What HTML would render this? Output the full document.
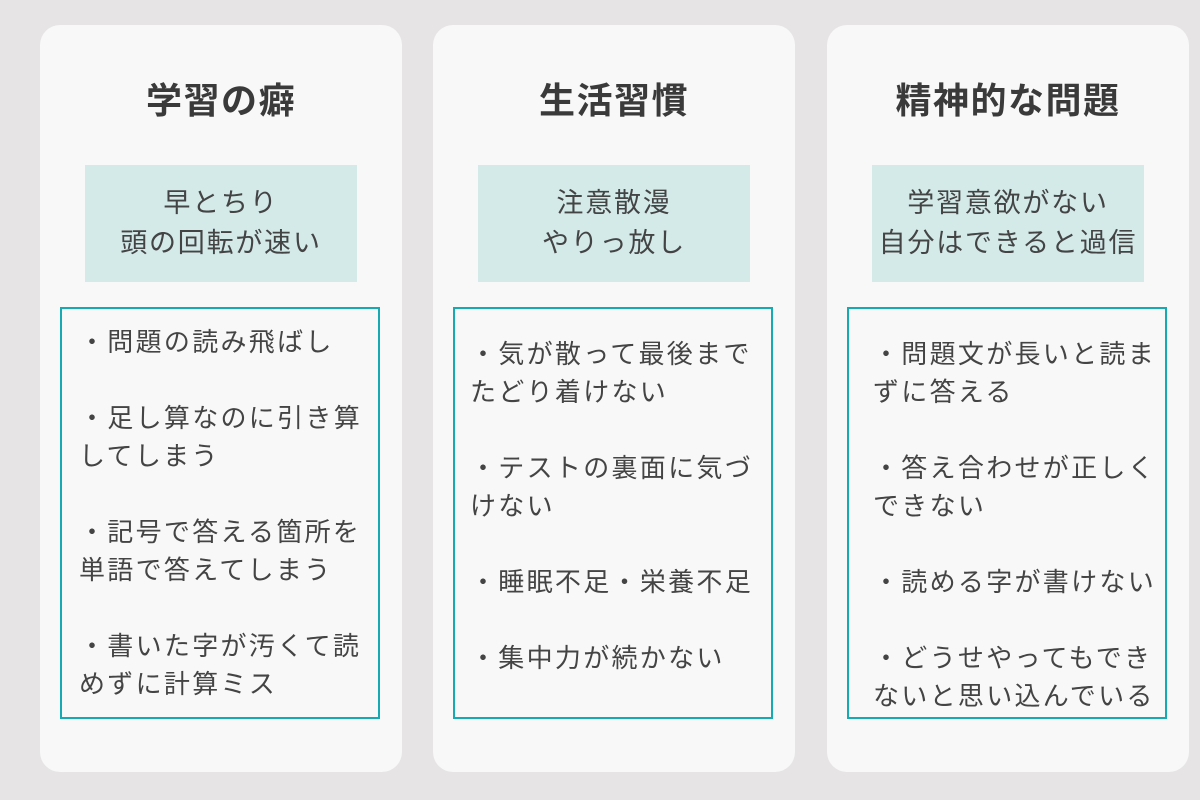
<!DOCTYPE html>
<html><head><meta charset="utf-8"><style>
body{margin:0;width:1200px;height:800px;background:#e6e4e4;position:relative;overflow:hidden;font-family:"Liberation Sans","Noto Sans CJK JP",sans-serif;color:#444;}
.card{position:absolute;top:25px;width:362px;height:747px;background:#f8f8f8;border-radius:20px;}
.t{position:absolute;left:0;width:100%;top:56px;text-align:center;font-size:36px;font-weight:bold;color:#3a3a3a;letter-spacing:1.5px;line-height:40px;}
.hl{position:absolute;left:45px;width:272px;top:140px;height:117px;background:#d3eae9;text-align:center;font-size:27px;line-height:40px;letter-spacing:1.8px;box-sizing:border-box;padding-top:18px;}
.bx{position:absolute;left:20px;width:320px;top:282px;height:412px;border:2.5px solid #16aab3;box-sizing:border-box;font-size:26px;line-height:38px;letter-spacing:2.3px;padding-left:17px;white-space:nowrap;}
</style></head><body>
<div class="card" style="left:40px">
<div class="t">学習の癖</div>
<div class="hl">早とちり<br>頭の回転が速い</div>
<div class="bx" style="padding-top:14px">・問題の読み飛ばし<br><br>・足し算なのに引き算<br>してしまう<br><br>・記号で答える箇所を<br>単語で答えてしまう<br><br>・書いた字が汚くて読<br>めずに計算ミス</div>
</div>
<div class="card" style="left:433px">
<div class="t">生活習慣</div>
<div class="hl">注意散漫<br>やりっ放し</div>
<div class="bx" style="padding-top:26px;padding-left:15px">・気が散って最後まで<br>たどり着けない<br><br>・テストの裏面に気づ<br>けない<br><br>・睡眠不足・栄養不足<br><br>・集中力が続かない</div>
</div>
<div class="card" style="left:827px">
<div class="t">精神的な問題</div>
<div class="hl">学習意欲がない<br>自分はできると過信</div>
<div class="bx" style="padding-top:26px;padding-left:24px">・問題文が長いと読ま<br>ずに答える<br><br>・答え合わせが正しく<br>できない<br><br>・読める字が書けない<br><br>・どうせやってもでき<br>ないと思い込んでいる</div>
</div>
</body></html>
